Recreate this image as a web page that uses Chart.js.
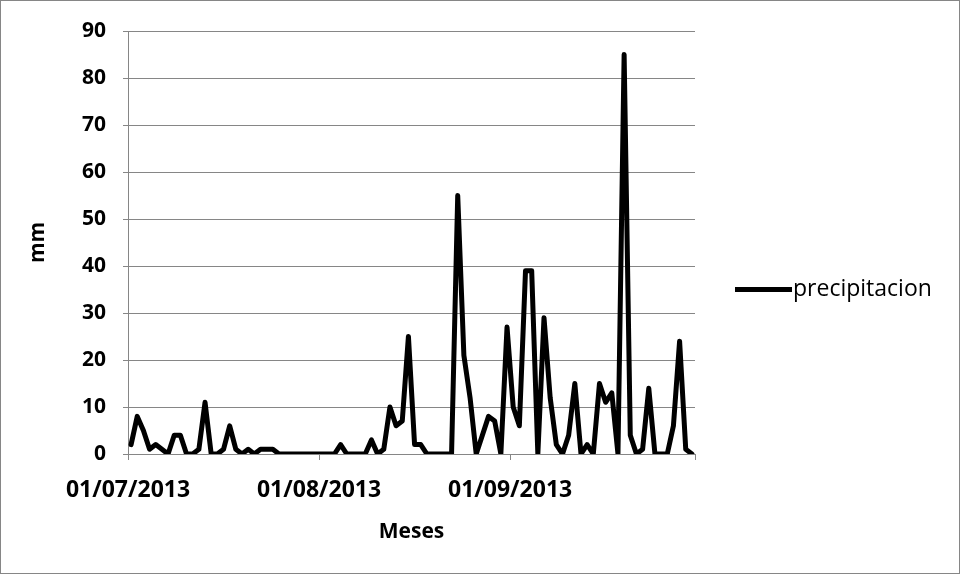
<!DOCTYPE html>
<html>
<head>
<meta charset="utf-8">
<script src="https://cdn.jsdelivr.net/npm/chart.js@4.4.1/dist/chart.umd.min.js"></script>
<style>
  html, body { margin: 0; padding: 0; background: #fff; }
  #wrap { width: 961px; height: 575px; position: relative; }
</style>
</head>
<body>
<div id="wrap"><canvas id="c" width="961" height="575"></canvas></div>
<script>
// Daily precipitation (mm), 01/07/2013 to 30/09/2013
const julio = [2, 8, 5, 1, 2, 1, 0, 4, 4, 0, 0, 1, 11, 0, 0, 1, 6, 1, 0, 1, 0, 1, 1, 1, 0, 0, 0, 0, 0, 0, 0];
const agosto = [0, 0, 0, 2, 0, 0, 0, 0, 3, 0, 1, 10, 6, 7, 25, 2, 2, 0, 0, 0, 0, 0, 55, 21, 12, 0, 4, 8, 7, 0, 27];
const septiembre = [10, 6, 39, 39, 0, 29, 12, 2, 0, 4, 15, 0, 2, 0, 15, 11, 13, 0, 85, 4, 0, 1, 14, 0, 0, 0, 6, 24, 1, 0];

// Month starts on the date axis (day offsets from 01/07/2013) and their labels
const inicioMes = [0, 31, 62, 92];
const etiquetasMes = ['01/07/2013', '01/08/2013', '01/09/2013', ''];
const yTicks = [0, 10, 20, 30, 40, 50, 60, 70, 80, 90];
const serie = 'precipitacion';

const precipitacion = julio.concat(agosto, septiembre);
// each day is centred within its own one-day slot on the date axis
const puntos = precipitacion.map((v, i) => ({ x: i + 0.5, y: v }));

const FONT = '"Open Sans", "Liberation Sans", "DejaVu Sans", sans-serif';
const GRIS = '#868686';

const marco = {
  id: 'marco',
  afterDraw(chart) {
    const ctx = chart.ctx;
    ctx.save();
    ctx.strokeStyle = GRIS;
    ctx.lineWidth = 1;
    ctx.strokeRect(0.5, 0.5, chart.width - 2, chart.height - 2);
    ctx.restore();
  }
};

// legend: a line sample followed by the series name, right of the plot
const leyenda = {
  id: 'leyenda',
  afterDraw(chart) {
    const ctx = chart.ctx;
    const ds = chart.data.datasets[0];
    const y = (chart.chartArea.top + chart.chartArea.bottom) / 2 + 47;
    const x0 = chart.chartArea.right + 40;
    ctx.save();
    ctx.strokeStyle = ds.borderColor;
    ctx.lineWidth = ds.borderWidth;
    ctx.lineCap = 'butt';
    ctx.beginPath();
    ctx.moveTo(x0, y);
    ctx.lineTo(x0 + 57, y);
    ctx.stroke();
    ctx.fillStyle = '#000';
    ctx.font = '23px ' + FONT;
    ctx.textBaseline = 'middle';
    ctx.fillText(ds.label, x0 + 58, y);
    ctx.restore();
  }
};

new Chart(document.getElementById('c'), {
  type: 'line',
  data: {
    datasets: [{
      label: serie,
      data: puntos,
      borderColor: '#000',
      borderWidth: 5,
      borderJoinStyle: 'round',
      borderCapStyle: 'round',
      pointRadius: 0,
      tension: 0,
      fill: false
    }]
  },
  options: {
    responsive: false,
    animation: false,
    layout: { padding: { left: 20, top: 31, right: 266, bottom: 22 } },
    plugins: {
      legend: { display: false },
      tooltip: { enabled: false }
    },
    scales: {
      x: {
        type: 'linear',
        min: inicioMes[0],
        max: inicioMes[inicioMes.length - 1],
        afterBuildTicks(scale) { scale.ticks = inicioMes.map(v => ({ value: v })); },
        afterFit(scale) { scale.height = 99; },
        ticks: {
          autoSkip: false,
          maxRotation: 0,
          padding: 17,
          color: '#000',
          font: { family: FONT, size: 23, weight: 'bold' },
          callback(v) { return etiquetasMes[inicioMes.indexOf(v)]; }
        },
        grid: { drawOnChartArea: false, drawTicks: true, tickLength: 6, color: GRIS, lineWidth: 1 },
        border: { color: GRIS, width: 1 },
        title: {
          display: true,
          text: 'Meses',
          color: '#000',
          font: { family: FONT, size: 21, weight: 'bold' },
          padding: { top: 0, bottom: 8 }
        }
      },
      y: {
        min: 0,
        max: 90,
        afterBuildTicks(scale) { scale.ticks = yTicks.map(v => ({ value: v })); },
        afterFit(scale) { scale.width = 108; },
        ticks: {
          padding: 17,
          color: '#000',
          font: { family: FONT, size: 21, weight: 'bold' }
        },
        grid: { color: GRIS, lineWidth: 1, tickLength: 5, drawTicks: true },
        border: { color: GRIS, width: 1 },
        title: {
          display: true,
          text: 'mm',
          color: '#000',
          font: { family: FONT, size: 21, weight: 'bold' },
          padding: { top: 5, bottom: 0 }
        }
      }
    }
  },
  plugins: [marco, leyenda]
});
</script>
</body>
</html>
